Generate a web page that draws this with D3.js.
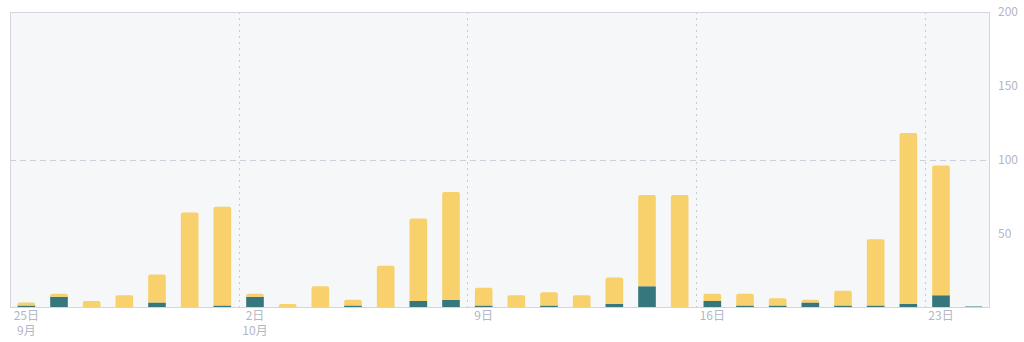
<!DOCTYPE html>
<html>
<head>
<meta charset="utf-8">
<script src="https://cdn.jsdelivr.net/npm/d3@7"></script>
<style>
  body { margin: 0; background: #fff; }
  svg text { font-family: "Noto Sans CJK JP", "Noto Sans", sans-serif; }
</style>
</head>
<body>
<div id="chart"></div>
<script>
// 日付（9/25〜10/24）
const days = ["9-25","9-26","9-27","9-28","9-29","9-30","10-1","10-2","10-3","10-4",
  "10-5","10-6","10-7","10-8","10-9","10-10","10-11","10-12","10-13","10-14",
  "10-15","10-16","10-17","10-18","10-19","10-20","10-21","10-22","10-23","10-24"];
// 下段（濃い緑）
const seriesA = [1,7,0,0,3,0,1,7,0,0, 1,0,4,5,1,0,1,0,2,14, 0,4,1,1,3,1,1,2,8,0.4];
// 合計
const totals = [3,9,4,8,22,64,68,9,2,14, 5,28,60,78,13,8,10,8,20,76, 76,9,9,6,5,11,46,118,96,0.4];
const seriesB = totals.map((t, i) => t - seriesA[i]);
const yTicks = [50, 100, 150, 200];
const xLabels = { "9-25": ["25日", "9月"], "10-2": ["2日", "10月"], "10-9": ["9日"], "10-16": ["16日"], "10-23": ["23日"] };

const margin = { top: 12, right: 34, bottom: 35, left: 10 };
const width = 1024 - margin.left - margin.right;
const height = 342 - margin.top - margin.bottom;

const svg = d3.select("#chart").append("svg")
  .attr("width", 1024).attr("height", 342)
  .append("g")
  .attr("transform", `translate(${margin.left},${margin.top})`);

const x = d3.scaleBand().domain(days).range([0, width]).paddingInner(0.46).paddingOuter(0.23);
const y = d3.scaleLinear().domain([0, 200]).range([height, 0]);

// 背景
svg.append("rect").attr("width", width).attr("height", height).attr("fill", "#f6f7f9");

// 縦の点線（週の区切り）
["10-2", "10-9", "10-16", "10-23"].forEach(d => {
  const xx = Math.round(x(d) - x.step() * x.paddingInner() / 2) + 0.5;
  svg.append("line").attr("x1", xx).attr("x2", xx).attr("y1", 0).attr("y2", height)
    .attr("stroke", "#c6c8d4").attr("stroke-dasharray", "2,4");
});
// 横の破線（100）
svg.append("line").attr("x1", 0).attr("x2", width)
  .attr("y1", Math.round(y(100)) + 0.5).attr("y2", Math.round(y(100)) + 0.5)
  .attr("stroke", "#cdcfdb").attr("stroke-dasharray", "6,4");

// 積み上げ
const data = days.map((d, i) => ({ day: d, a: seriesA[i], b: seriesB[i] }));
const stack = d3.stack().keys(["a", "b"])(data);
const color = { a: "#36777d", b: "#f8d06c" };

function barPath(x0, y0, w, h, r) {
  r = Math.min(r, h, w / 2);
  return `M${x0},${y0 + h}V${y0 + r}Q${x0},${y0} ${x0 + r},${y0}H${x0 + w - r}Q${x0 + w},${y0} ${x0 + w},${y0 + r}V${y0 + h}Z`;
}

stack.forEach(layer => {
  svg.append("g").attr("fill", color[layer.key])
    .selectAll("path").data(layer).enter().append("path")
    .attr("d", d => {
      const h = y(d[0]) - y(d[1]);
      if (h <= 0) return null;
      const isTop = layer.key === "b" || d.data.b === 0;
      return barPath(x(d.data.day), y(d[1]), x.bandwidth(), h, isTop ? 2 : 0);
    });
});

// 枠線
svg.append("rect").attr("x", 0.5).attr("y", 0.5).attr("width", width - 1).attr("height", height)
  .attr("fill", "none").attr("stroke", "#d3d4de");

// Y軸（右側）
const yAxis = svg.append("g").attr("transform", `translate(${width},0)`)
  .call(d3.axisRight(y).tickValues(yTicks).tickSize(0).tickPadding(8));
yAxis.select(".domain").remove();
yAxis.selectAll("text").attr("fill", "#b3b6c4").style("font-size", "12px");

// X軸ラベル
const xl = svg.append("g").attr("transform", `translate(0,${height})`);
Object.entries(xLabels).forEach(([d, lines]) => {
  lines.forEach((t, j) => {
    xl.append("text").attr("x", x(d) + x.bandwidth() / 2).attr("y", 13 + j * 15)
      .attr("text-anchor", "middle").attr("fill", "#b3b6c4").style("font-size", "12px").text(t);
  });
});
</script>
</body>
</html>
